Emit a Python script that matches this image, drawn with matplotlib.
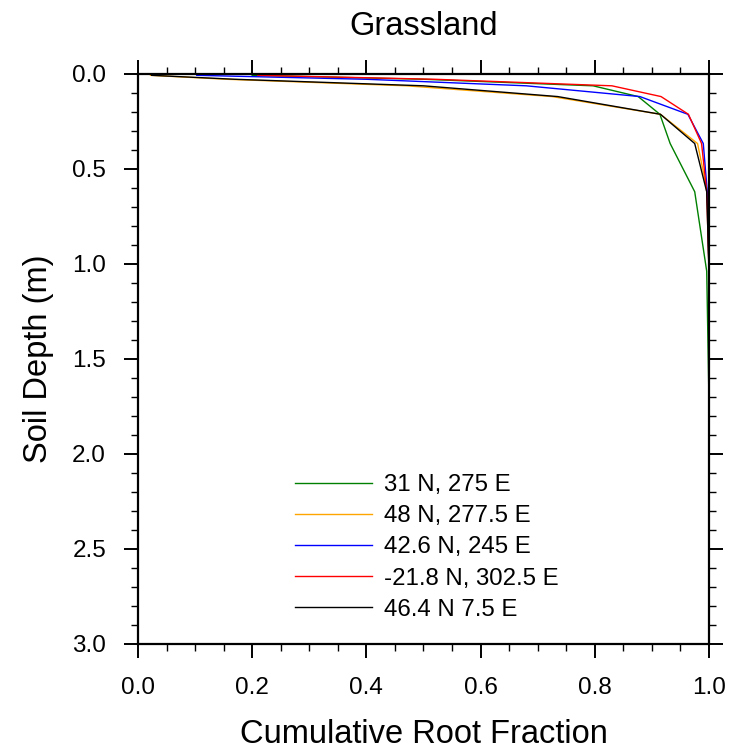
import numpy as np
import matplotlib.pyplot as plt
from matplotlib.ticker import MultipleLocator

plt.rcParams['font.family'] = ['Liberation Sans', 'DejaVu Sans']

# CLM soil layer node depths (m)
depth = [0.0071, 0.0279, 0.0623, 0.1189, 0.2122, 0.3661, 0.6198, 1.0380, 1.7276, 2.8646]

# cumulative root fraction at each node, one series per site
site_31n = [0.20, 0.50, 0.797, 0.876, 0.914, 0.932, 0.975, 0.996, 1.0, 1.0]
site_48n = [0.022, 0.155, 0.47, 0.725, 0.915, 0.980, 0.997, 1.0, 1.0, 1.0]
site_42n = [0.103, 0.40, 0.68, 0.879, 0.963, 0.990, 0.997, 1.0, 1.0, 1.0]
site_21s = [0.21, 0.52, 0.83, 0.916, 0.964, 0.987, 0.996, 1.0, 1.0, 1.0]
site_46n = [0.024, 0.17, 0.50, 0.735, 0.915, 0.975, 0.996, 1.0, 1.0, 1.0]

labels = ['31 N, 275 E', '48 N, 277.5 E', '42.6 N, 245 E', '-21.8 N, 302.5 E', '46.4 N 7.5 E']
colors = ['green', 'orange', 'blue', 'red', 'black']

fig = plt.figure(figsize=(7.37, 7.51), dpi=100)
ax = fig.add_axes([0.1872, 0.1425, 0.7748, 0.759])

for vals, lab, col in zip([site_31n, site_48n, site_42n, site_21s, site_46n], labels, colors):
    ax.plot(vals, depth, color=col, lw=1.0, label=lab)

ax.set_xlim(0, 1)
ax.set_ylim(3, 0)
ax.xaxis.set_major_locator(MultipleLocator(0.2))
ax.xaxis.set_minor_locator(MultipleLocator(0.05))
ax.yaxis.set_major_locator(MultipleLocator(0.5))
ax.yaxis.set_minor_locator(MultipleLocator(0.1))
ax.xaxis.set_major_formatter('{x:.1f}')
ax.yaxis.set_major_formatter('{x:.1f}')

ax.tick_params(which='both', direction='out', top=True, right=True, labelsize=17.5)
ax.tick_params(which='major', length=10, width=1.4)
ax.tick_params(which='minor', length=5, width=1.0)
ax.tick_params(axis='x', which='major', pad=14)
ax.tick_params(axis='y', which='major', pad=13)
for s in ax.spines.values():
    s.set_linewidth(1.6)

ax.set_xlabel('Cumulative Root Fraction', fontsize=23.5, labelpad=14)
ax.set_ylabel('Soil Depth (m)', fontsize=23.5, labelpad=13)
ax.set_title('Grassland', fontsize=23.5, pad=28)

ax.legend(loc='upper left', bbox_to_anchor=(0.275, 0.298), frameon=False,
          fontsize=17.3, handlelength=3.2, handletextpad=0.5, labelspacing=0.38,
          borderpad=0, borderaxespad=0)

fig.savefig('out.png', dpi=100)
